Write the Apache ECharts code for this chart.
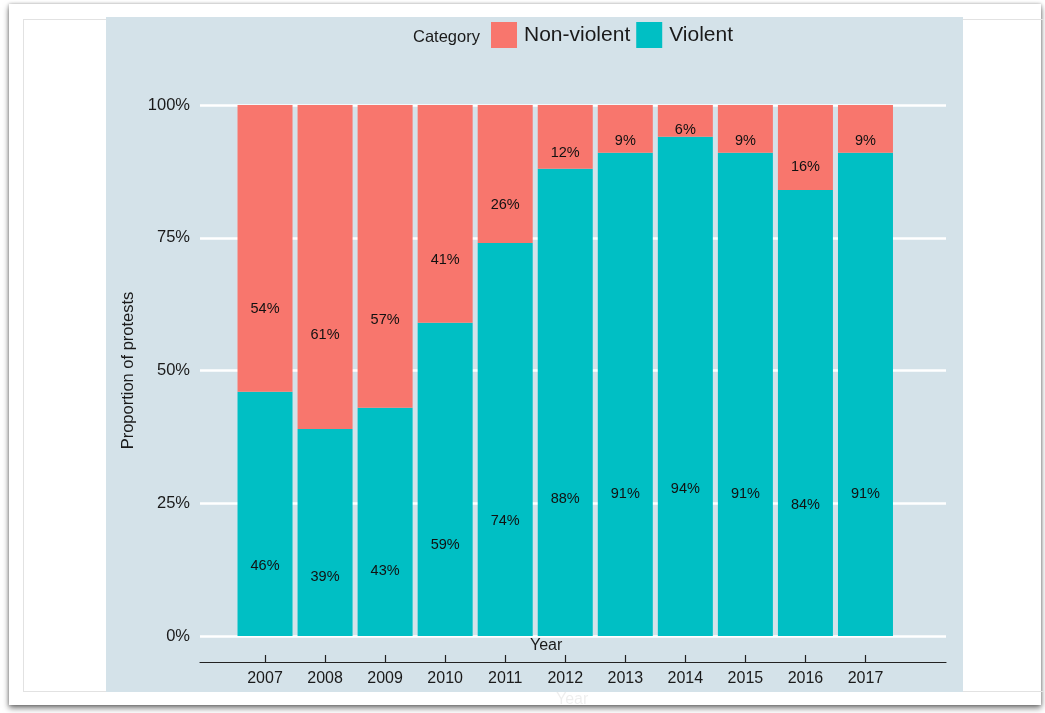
<!DOCTYPE html>
<html>
<head>
<meta charset="utf-8">
<script src="https://cdn.jsdelivr.net/npm/echarts@6/dist/echarts.min.js"></script>
<style>
  html, body { margin: 0; padding: 0; background: #ffffff; width: 1045px; height: 713px; overflow: hidden; }
  #frame { position: absolute; left: 9px; top: 4px; width: 1032px; height: 701px; background: #fff;
           box-shadow: 0 3px 6px rgba(0,0,0,0.55), 0 0 3px rgba(0,0,0,0.25); }
  #inner { position: absolute; left: 23px; top: 19px; width: 1019px; height: 671px; border: 1px solid #e2e2e2; }
  #panel { position: absolute; left: 106px; top: 17px; width: 857px; height: 675px; background: #d4e2e9; }
  #chart { position: absolute; left: 0; top: 0; width: 1045px; height: 713px; }
</style>
</head>
<body>
<div id="frame"></div>
<div id="inner"></div>
<div id="panel"></div>
<div id="chart"></div>
<script>
const years = ['2007','2008','2009','2010','2011','2012','2013','2014','2015','2016','2017'];
const violent    = [46, 39, 43, 59, 74, 88, 91, 94, 91, 84, 91];
const nonViolent = [54, 61, 57, 41, 26, 12,  9,  6,  9, 16,  9];
const yTicks = ['0%','25%','50%','75%','100%'];
const seriesNames = ['Non-violent', 'Violent'];
const colors = { 'Non-violent': '#F8766D', 'Violent': '#00BFC4' };

const FONT = '"Liberation Sans", Arial, Helvetica, sans-serif';
const chart = echarts.init(document.getElementById('chart'), null, { renderer: 'canvas' });

const labelCfg = {
  show: true,
  position: ['50%', '70%'],
  offset: [0, 3],
  align: 'center',
  verticalAlign: 'middle',
  color: '#111',
  fontSize: 14.5,
  fontFamily: FONT,
  formatter: p => p.value + '%'
};

chart.setOption({
  animation: false,
  title: [
    { text: 'Category', left: 408, top: 24, textStyle: { fontSize: 16.5, fontWeight: 'normal', color: '#1a1a1a', fontFamily: FONT } },
    { text: 'Year', left: 525, top: 633, textStyle: { fontSize: 16, fontWeight: 'normal', color: '#1a1a1a', fontFamily: FONT } },
    { text: 'Year', left: 551, top: 687, textStyle: { fontSize: 16, fontWeight: 'normal', color: 'rgba(0,0,0,0.07)', fontFamily: FONT } }
  ],
  legend: {
    left: 491, top: 22, padding: 0,
    itemWidth: 26, itemHeight: 26, itemGap: 6,
    icon: 'rect',
    data: seriesNames,
    textStyle: { fontSize: 21, color: '#1a1a1a', fontFamily: FONT, padding: [0, 0, 0, 2] }
  },
  grid: [
    { left: 235, right: 149.5, top: 105, bottom: 77 },
    { left: 200, right: 99, top: 105, bottom: 77 }
  ],
  xAxis: [
    {
      type: 'category', gridIndex: 0, data: years, offset: 26,
      axisLine: { show: true, onZero: false, lineStyle: { color: '#222', width: 1.2 } },
      axisTick: { show: true, inside: true, length: 7, alignWithLabel: true, lineStyle: { color: '#222', width: 1.2 } },
      axisLabel: { color: '#1a1a1a', fontSize: 16, fontFamily: FONT, margin: 9 },
      splitLine: { show: false }
    },
    {
      type: 'value', gridIndex: 1, offset: 26, min: 0, max: 1,
      axisLine: { show: true, onZero: false, lineStyle: { color: '#222', width: 1.2 } },
      axisTick: { show: false }, axisLabel: { show: false }, splitLine: { show: false }
    }
  ],
  yAxis: [
    { type: 'value', gridIndex: 0, min: 0, max: 100, interval: 25, show: false },
    {
      type: 'value', gridIndex: 1, min: 0, max: 100, interval: 25,
      name: 'Proportion of protests', nameLocation: 'middle', nameGap: 59, nameRotate: 90,
      nameTextStyle: { fontSize: 16.5, color: '#1a1a1a', fontFamily: FONT },
      axisLine: { show: false }, axisTick: { show: false },
      axisLabel: { color: '#1a1a1a', fontSize: 16.5, fontFamily: FONT, margin: 10,
                   formatter: v => yTicks[Math.round(v / 25)] },
      splitLine: { show: true, lineStyle: { color: '#ffffff', width: 2.5 } }
    }
  ],
  series: [
    {
      name: 'Violent', type: 'bar', stack: 'total', xAxisIndex: 0, yAxisIndex: 0,
      data: violent, barWidth: 55, itemStyle: { color: colors['Violent'] }, label: labelCfg
    },
    {
      name: 'Non-violent', type: 'bar', stack: 'total', xAxisIndex: 0, yAxisIndex: 0,
      data: nonViolent, barWidth: 55, itemStyle: { color: colors['Non-violent'] }, label: labelCfg
    }
  ]
});
</script>
</body>
</html>
